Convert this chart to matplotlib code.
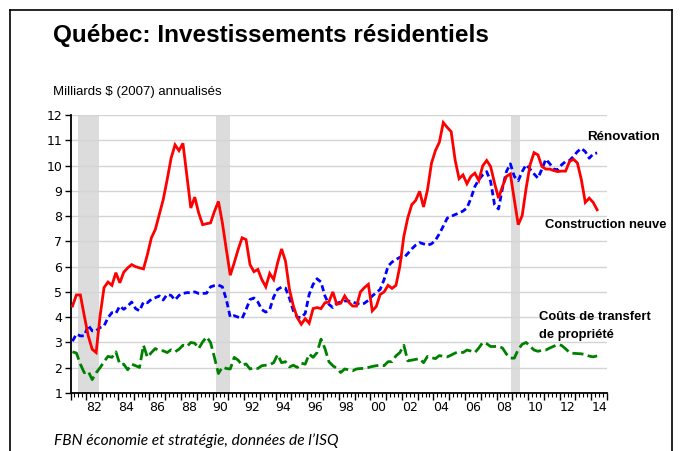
import numpy as np
import matplotlib.pyplot as plt
from matplotlib import font_manager
from matplotlib.ticker import MultipleLocator, FixedLocator, NullFormatter


def has_font(name):
    try:
        font_manager.findfont(name, fallback_to_default=False)
        return True
    except Exception:
        return False


narrow = 'Liberation Sans Narrow' if has_font('Liberation Sans Narrow') else 'Liberation Sans'
footer_font = 'Lato' if has_font('Lato') else 'DejaVu Sans'

# quarterly data, 1981Q1 - 2014Q2, milliards $ (2007) annualises
first_year = 1981
construction = [
    4.44, 4.88, 4.88, 4.05, 3.26, 2.73, 2.60, 4.05, 5.17, 5.39,
    5.26, 5.76, 5.36, 5.78, 5.95, 6.08, 6.00, 5.95, 5.91, 6.48,
    7.14, 7.47, 8.06, 8.65, 9.44, 10.29, 10.82, 10.59, 10.88, 9.60,
    8.32, 8.75, 8.12, 7.66, 7.70, 7.73, 8.19, 8.58, 7.73, 6.68,
    5.66, 6.15, 6.68, 7.14, 7.07, 6.08, 5.80, 5.89, 5.49, 5.20,
    5.73, 5.49, 6.15, 6.70, 6.22, 5.10, 4.44, 3.98, 3.72, 3.94,
    3.76, 4.34, 4.38, 4.34, 4.57, 4.60, 5.00, 4.51, 4.55, 4.84,
    4.60, 4.44, 4.44, 5.00, 5.17, 5.30, 4.25, 4.42, 4.90, 5.00,
    5.26, 5.14, 5.26, 6.02, 7.20, 7.93, 8.45, 8.62, 8.98, 8.36,
    9.04, 10.09, 10.59, 10.92, 11.70, 11.51, 11.34, 10.22, 9.48, 9.63,
    9.28, 9.57, 9.70, 9.41, 9.99, 10.20, 9.96, 9.30, 8.71, 9.17,
    9.57, 9.67, 8.65, 7.66, 8.02, 9.10, 10.03, 10.51, 10.42, 9.96,
    9.86, 9.86, 9.80, 9.76, 9.78, 9.78, 10.16, 10.25, 10.10, 9.44,
    8.54, 8.71, 8.54, 8.25,
]
renovation = [
    3.05, 3.33, 3.26, 3.26, 3.68, 3.46, 3.46, 3.59, 3.65, 3.98,
    4.18, 4.15, 4.44, 4.31, 4.44, 4.60, 4.34, 4.25, 4.60, 4.57,
    4.71, 4.77, 4.84, 4.68, 4.90, 4.86, 4.68, 4.86, 4.94, 4.97,
    4.97, 5.00, 4.94, 4.94, 4.95, 5.20, 5.25, 5.27, 5.20, 4.70,
    4.00, 4.06, 4.00, 3.95, 4.30, 4.70, 4.76, 4.60, 4.30, 4.20,
    4.30, 4.80, 5.10, 5.19, 5.15, 4.75, 4.25, 4.00, 3.98, 4.15,
    4.90, 5.30, 5.52, 5.39, 4.84, 4.51, 4.38, 4.55, 4.60, 4.64,
    4.64, 4.60, 4.55, 4.51, 4.55, 4.67, 4.84, 4.97, 5.10, 5.49,
    6.02, 6.18, 6.28, 6.37, 6.35, 6.52, 6.70, 6.85, 6.95, 6.90,
    6.85, 6.90, 7.04, 7.30, 7.60, 7.92, 7.99, 8.06, 8.12, 8.20,
    8.32, 8.70, 9.17, 9.44, 9.63, 9.76, 9.37, 8.45, 8.28, 9.10,
    9.76, 10.07, 9.57, 9.40, 9.76, 10.03, 9.86, 9.67, 9.50, 9.86,
    10.25, 10.07, 9.86, 9.83, 10.03, 10.16, 10.20, 10.36, 10.55, 10.68,
    10.55, 10.29, 10.46, 10.50,
]
transfert = [
    2.63, 2.58, 2.14, 1.80, 1.86, 1.53, 1.80, 2.00, 2.24, 2.45,
    2.41, 2.63, 2.14, 2.14, 1.92, 2.14, 2.08, 2.01, 2.89, 2.41,
    2.60, 2.76, 2.67, 2.67, 2.60, 2.71, 2.63, 2.73, 2.89, 2.84,
    3.00, 2.97, 2.76, 3.02, 3.22, 3.00, 2.40, 1.77, 2.03, 1.97,
    1.95, 2.41, 2.30, 2.10, 2.15, 1.95, 2.00, 1.97, 2.08, 2.10,
    2.12, 2.20, 2.52, 2.20, 2.24, 2.03, 2.10, 2.01, 2.18, 2.14,
    2.54, 2.41, 2.60, 3.13, 2.76, 2.24, 2.08, 1.97, 1.81, 1.95,
    1.92, 1.88, 1.95, 1.97, 1.97, 2.01, 2.05, 2.08, 2.10, 2.08,
    2.24, 2.24, 2.47, 2.60, 2.89, 2.27, 2.30, 2.33, 2.36, 2.20,
    2.45, 2.40, 2.36, 2.48, 2.45, 2.43, 2.50, 2.58, 2.63, 2.60,
    2.70, 2.66, 2.60, 2.78, 3.00, 2.95, 2.84, 2.84, 2.85, 2.78,
    2.54, 2.38, 2.38, 2.72, 2.93, 3.00, 2.85, 2.70, 2.65, 2.69,
    2.70, 2.78, 2.85, 2.92, 2.88, 2.75, 2.60, 2.57, 2.56, 2.55,
    2.52, 2.46, 2.43, 2.47,
]
recessions = [(1981.5, 1982.83), (1990.25, 1991.1), (2008.9, 2009.5)]
label_years = list(range(1982, 2015, 2))
y_ticks = list(range(1, 13))

# mid-quarter positions
t = first_year + np.arange(len(construction)) / 4 + 0.125

W, H = 681, 451
fig = plt.figure(figsize=(W / 100, H / 100), dpi=100)
ax = fig.add_axes([70.5 / W, 1 - 393 / H, (607 - 70.5) / W, (393 - 115) / H])

for a, b in recessions:
    ax.axvspan(a, b, color='#dcdcdc', lw=0, zorder=0)
for v in y_ticks[1:]:
    ax.axhline(v, color='#d4d4d4', lw=1, zorder=1)

ax.plot(t, construction, color='#ff0000', lw=2, zorder=4, solid_joinstyle='miter')
ax.plot(t, renovation, color='#0000ff', lw=2, dashes=(2.2, 1.3), zorder=3)
ax.plot(t, transfert, color='#008000', lw=2, dashes=(4, 1.6), zorder=3)

ax.set_xlim(1981, 2015)
ax.set_ylim(1, 12)
ax.set_yticks(y_ticks)
for s in ['top', 'right']:
    ax.spines[s].set_visible(False)
for s in ['left', 'bottom']:
    ax.spines[s].set_linewidth(1.3)
ax.tick_params(axis='y', direction='out', length=4, width=1, labelsize=9, pad=2)
ax.xaxis.set_major_locator(MultipleLocator(1))
ax.xaxis.set_minor_locator(MultipleLocator(0.25))
ax.xaxis.set_major_formatter(NullFormatter())
ax.tick_params(axis='x', which='major', direction='out', length=5, width=1)
ax.tick_params(axis='x', which='minor', direction='out', length=3, width=0.8)

sec = ax.secondary_xaxis('bottom')
sec.xaxis.set_major_locator(FixedLocator([y + 0.5 for y in label_years]))
sec.set_xticklabels(['%02d' % (y % 100) for y in label_years])
sec.tick_params(length=0, labelsize=9, pad=6)
sec.spines['bottom'].set_visible(False)


def figtext(x, y, s, **kw):
    fig.text(x / W, 1 - y / H, s, va='baseline', **kw)


figtext(53, 42, 'Québec: Investissements résidentiels', fontsize=17.5,
        fontweight='bold', family='Liberation Sans')
figtext(53, 95, 'Milliards $ (2007) annualisés', fontsize=9.5, family=narrow)
figtext(587, 140, 'Rénovation', fontsize=9.6, fontweight='bold', family=narrow)
figtext(545, 228, 'Construction neuve', fontsize=9.4, fontweight='bold', family=narrow)
figtext(539, 320, 'Coûts de transfert', fontsize=9.4, fontweight='bold', family=narrow)
figtext(539, 338, 'de propriété', fontsize=9.4, fontweight='bold', family=narrow)
figtext(54, 445, 'FBN économie et stratégie, données de l\u2019ISQ', fontsize=11.2,
        style='italic', family=footer_font)

# outer frame
fig.add_artist(plt.Line2D([10 / W, 10 / W], [0, 1 - 10 / H], color='black', lw=1.2))
fig.add_artist(plt.Line2D([10 / W, 672 / W], [1 - 10 / H, 1 - 10 / H], color='black', lw=1.2))
fig.add_artist(plt.Line2D([672 / W, 672 / W], [0, 1 - 10 / H], color='black', lw=1.2))

fig.savefig('out.png', dpi=100)
